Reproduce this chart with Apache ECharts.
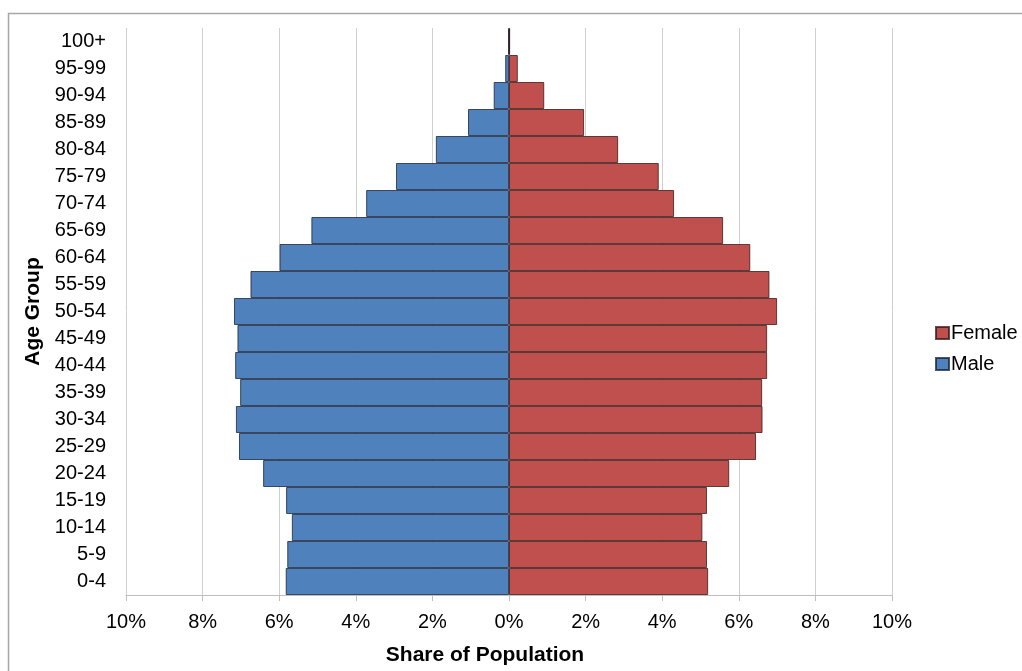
<!DOCTYPE html>
<html>
<head>
<meta charset="utf-8">
<title>Population Pyramid</title>
<script src="https://cdn.jsdelivr.net/npm/echarts@6/dist/echarts.min.js"></script>
<style>
  html, body { margin: 0; padding: 0; background: #ffffff; }
  #chart { width: 1022px; height: 671px; }
</style>
</head>
<body>
<div id="chart"></div>
<script>
// Age groups, youngest at the bottom
const ageGroups = ['0-4', '5-9', '10-14', '15-19', '20-24', '25-29', '30-34', '35-39',
  '40-44', '45-49', '50-54', '55-59', '60-64', '65-69', '70-74', '75-79', '80-84',
  '85-89', '90-94', '95-99', '100+'];

// Share of population (%) per age group
const maleShare = [5.83, 5.79, 5.67, 5.82, 6.42, 7.05, 7.13, 7.02, 7.15, 7.09, 7.18,
  6.75, 5.99, 5.16, 3.73, 2.95, 1.91, 1.07, 0.40, 0.10, 0.02];
const femaleShare = [5.20, 5.17, 5.05, 5.17, 5.75, 6.45, 6.62, 6.61, 6.74, 6.74, 7.00,
  6.80, 6.30, 5.59, 4.31, 3.91, 2.85, 1.96, 0.92, 0.23, 0.03];

// Axis ticks for the share axis
const shareTicks = [-10, -8, -6, -4, -2, 0, 2, 4, 6, 8, 10];

const FONT = '"Liberation Sans", Arial, sans-serif';
const chart = echarts.init(document.getElementById('chart'), null, { renderer: 'canvas' });

chart.setOption({
  animation: false,
  backgroundColor: '#ffffff',
  textStyle: { fontFamily: FONT },
  grid: { left: 126, right: 130, top: 28, bottom: 76, containLabel: false },
  legend: {
    data: ['Female', 'Male'],
    orient: 'vertical',
    left: 930,
    top: 318,
    itemWidth: 13,
    itemHeight: 12,
    itemGap: 11,
    icon: 'rect',
    textStyle: { fontFamily: FONT, fontSize: 20, color: '#000', padding: [0, 0, 0, -3] }
  },
  xAxis: {
    type: 'value',
    min: shareTicks[0],
    max: shareTicks[shareTicks.length - 1],
    interval: 2,
    axisLine: { show: true, lineStyle: { color: '#bfbfbf', width: 1 } },
    axisTick: { show: true, length: 6, lineStyle: { color: '#bfbfbf' } },
    axisLabel: {
      fontFamily: FONT, fontSize: 20, color: '#000', margin: 17,
      formatter: v => Math.abs(v) + '%'
    },
    splitLine: { show: true, lineStyle: { color: '#d0d0d0', width: 1 } }
  },
  yAxis: {
    type: 'category',
    data: ageGroups,
    axisLine: { show: true, lineStyle: { color: '#bfbfbf', width: 1 } },
    axisTick: { show: false },
    axisLabel: { fontFamily: FONT, fontSize: 20, color: '#000', margin: 20 },
    name: 'Age Group',
    nameLocation: 'middle',
    nameGap: 81,
    nameRotate: 90,
    nameTextStyle: { fontFamily: FONT, fontSize: 21, fontWeight: 'bold', color: '#000' }
  },
  graphic: [
    {
      type: 'rect',
      silent: true,
      shape: { x: 8.5, y: 13.5, width: 1200, height: 1000 },
      style: { fill: null, stroke: '#a6a6a6', lineWidth: 1.5 }
    },
    {
      type: 'text',
      silent: true,
      x: 485, y: 655,
      style: {
        text: 'Share of Population',
        font: 'bold 21px ' + FONT,
        fill: '#000',
        align: 'center',
        verticalAlign: 'middle'
      }
    }
  ],
  series: [
    {
      name: 'Male',
      type: 'bar',
      data: maleShare.map(v => -v),
      barWidth: '100%',
      barGap: '-100%',
      itemStyle: { color: '#4f81bd', borderColor: 'rgba(20,30,50,0.75)', borderWidth: 1 }
    },
    {
      name: 'Female',
      type: 'bar',
      data: femaleShare,
      barWidth: '100%',
      barGap: '-100%',
      itemStyle: { color: '#c0504d', borderColor: 'rgba(50,20,20,0.75)', borderWidth: 1 }
    }
  ]
});
</script>
</body>
</html>
